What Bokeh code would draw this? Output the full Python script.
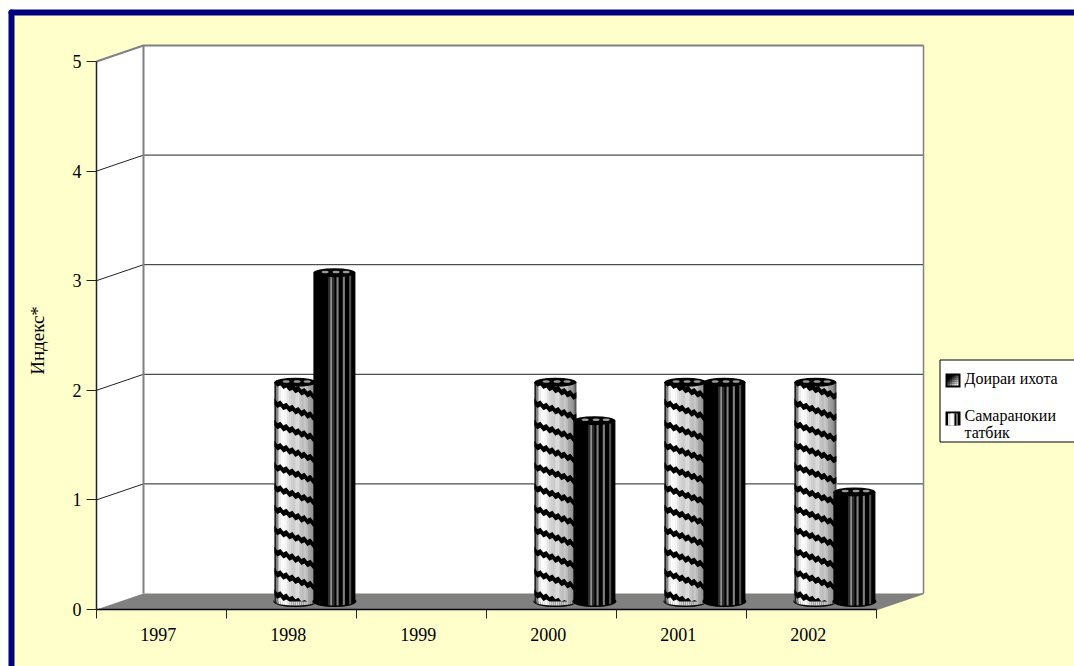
import numpy as np
from bokeh.plotting import figure
from bokeh.models import BoxAnnotation, Label, FixedTicker, LinearAxis
from bokeh.embed import file_html
from bokeh.resources import INLINE

years = ["1997", "1998", "1999", "2000", "2001", "2002"]
circle_values = [None, 2.0, None, 2.0, 2.0, 2.0]     # Доираи ихота
match_values = [None, 3.0, None, 1.65, 2.0, 1.0]     # Самаранокии татбик
y_ticks = [0, 1, 2, 3, 4, 5]
series_names = ["Доираи ихота", "Самаранокии", "татбик"]
y_title = "Индекс*"

YELLOW = "#FFFFCC"
NAVY = "#000080"
FONT = "Liberation Serif"
PX_X = 130.0     # pixels per category
PX_Y = 109.6     # pixels per index unit
X0, Y0 = 96, 609  # page pixel of the data origin
DX, DY = 47 / PX_X, 16 / PX_Y  # depth of the 3D box
FIG_W, FIG_H = 1074, 666


def hx(px):
    return (px - X0) / PX_X


def hy(px):
    return (Y0 - px) / PX_Y


p = figure(width=FIG_W, height=FIG_H, output_backend="svg", toolbar_location=None,
           x_range=(hx(0), hx(FIG_W)), y_range=(hy(FIG_H), hy(0)),
           min_border_left=0, min_border_right=0, min_border_top=0, min_border_bottom=0,
           x_axis_location=None, y_axis_location=None)
p.background_fill_color = YELLOW
p.border_fill_color = YELLOW
p.outline_line_color = None
p.grid.visible = False

# walls and floor
n_cat = len(years)
top = max(y_ticks)
p.patch([0, DX, DX, 0], [0, DY, top + DY, top], fill_color="white", line_color=None)
p.quad(left=DX, right=n_cat + DX, bottom=DY, top=top + DY, fill_color="white", line_color=None)
p.patch([0, DX, n_cat + DX, n_cat], [0, DY, DY, 0], fill_color="#808080", line_color=None)
for t in y_ticks[1:-1]:
    p.line([0, DX, n_cat + DX], [t, t + DY, t + DY], line_color="#222222", line_width=1)
p.line([0, DX, n_cat + DX], [top, top + DY, top + DY], line_color="#808080", line_width=2)
p.line([DX, DX], [DY, top + DY], line_color="#808080", line_width=2)
p.line([n_cat + DX, n_cat + DX], [DY, top + DY], line_color="#808080", line_width=1.5)
p.line([n_cat, n_cat + DX], [0, DY], line_color="#808080", line_width=1.5)

# cylinders
BAR_W = 42 / PX_X
CY = 8 / PX_Y       # base centre above the floor line
EH = 4.0 / PX_Y     # half height of the end ellipses
SHADE_A = ["#222222", "#888888", "#e8e8e8", "#ffffff", "#ffffff", "#f4f4f4", "#e4e4e4", "#d8d8d8", "#d0d0d0",
           "#cccccc", "#dddddd", "#dddddd", "#c4c4c4", "#bcbcbc", "#c8c8c8", "#bbbbbb", "#a4a4a4", "#999999",
           "#8a8a8a", "#555555"]
SHADE_B = ["#000000"] * 20
for i, s in [(8, "#909090"), (11, "#808080"), (14, "#808080"), (17, "#505050"), (7, "#303030"), (9, "#303030")]:
    SHADE_B[i] = s


def cylinder(cx, value, shades, base):
    n = len(shades)
    edges = np.linspace(cx - BAR_W / 2, cx + BAR_W / 2, n + 1)
    mid = (edges[:-1] + edges[1:]) / 2
    chord = np.sqrt(np.clip(1 - ((mid - cx) / (BAR_W / 2)) ** 2, 0, 1)) * EH
    p.ellipse([cx], [CY], width=BAR_W + 2 / PX_X, height=2 * EH + 3 / PX_Y, fill_color="black", line_color=None)
    p.quad(left=[edges[0]], right=[edges[-1]], bottom=[CY], top=[value + CY], fill_color=base, line_color=None)
    keep = [k for k, s in enumerate(shades) if s != "#000000"]
    p.quad(left=edges[keep], right=edges[np.array(keep) + 1], bottom=CY - chord[keep], top=value + CY,
           fill_color=[shades[k] for k in keep], line_color=None)


def top_cap(cx, value):
    tc = value + CY
    p.ellipse([cx], [tc], width=BAR_W, height=2 * EH + 1 / PX_Y, fill_color="black", line_color=None)
    for f in (-0.22, 0.04, 0.28):
        p.ellipse([cx + f * BAR_W], [tc + 0.8 / PX_Y], width=7 / PX_X, height=2.5 / PX_Y,
                  fill_color="#999999", line_color=None)


def bands(cx, value):
    band_step = 21.2 / PX_Y
    ts = np.linspace(-0.5, 0.5, 15)
    saw = np.where(np.arange(len(ts)) % 2 == 0, 1.3, -1.3) / PX_Y
    xs_out, ys_out = [], []
    start = CY + 8 / PX_Y
    while start < value + CY + 8 / PX_Y:
        mid_y = start - (ts + 0.5) * 15 / PX_Y
        upper = np.clip(mid_y + 3.0 / PX_Y + saw, CY, value + CY)
        lower = np.clip(mid_y - 3.0 / PX_Y + saw, CY, value + CY)
        xx = cx + ts * BAR_W
        xs_out.append(list(xx) + list(xx[::-1]))
        ys_out.append(list(upper) + list(lower[::-1]))
        start += band_step
    p.patches(xs_out, ys_out, fill_color="black", line_color=None)


for i in range(n_cat):
    if circle_values[i] is not None:
        cx = i + 0.53
        cylinder(cx, circle_values[i], SHADE_A, "#cccccc")
        bands(cx, circle_values[i])
        top_cap(cx, circle_values[i])
for i in range(n_cat):
    if match_values[i] is not None:
        cx = i + 0.83
        cylinder(cx, match_values[i], SHADE_B, "#000000")
        top_cap(cx, match_values[i])

# axes drawn inside the full-page frame
label_ticks = [i + 0.475 for i in range(n_cat)]
xax = LinearAxis(fixed_location=0)
xax.ticker = FixedTicker(ticks=label_ticks, minor_ticks=list(range(n_cat + 1)))
xax.major_label_overrides = dict(zip(label_ticks, years))
xax.bounds = (0, n_cat)
xax.major_tick_out = 0
xax.major_tick_in = 0
xax.minor_tick_out = 9
xax.minor_tick_in = 0
xax.minor_tick_line_color = "#222222"
xax.minor_tick_line_width = 1
xax.axis_line_color = "black"
xax.axis_line_width = 1.5
xax.major_label_standoff = 9
xax.major_label_text_font = FONT
xax.major_label_text_font_size = "18px"
xax.major_label_text_color = "black"
p.add_layout(xax, "below")

yax = LinearAxis(fixed_location=0)
yax.ticker = FixedTicker(ticks=y_ticks, minor_ticks=[])
yax.bounds = (0, top)
yax.major_tick_out = 10
yax.major_tick_in = 0
yax.major_tick_line_color = "#222222"
yax.axis_line_color = "#222222"
yax.axis_line_width = 1.5
yax.major_label_standoff = 5
yax.major_label_text_font = FONT
yax.major_label_text_font_size = "18px"
yax.major_label_text_color = "black"
p.add_layout(yax, "left")

p.add_layout(Label(x=hx(36.5), y=hy(340), text=y_title, angle=np.pi / 2, text_font=FONT, text_font_size="19px",
                   text_font_style="normal", text_color="black", text_align="center", text_baseline="middle"))


def box(x0, x1, y0, y1, fill, line=None, lw=1, radius=0):
    p.add_layout(BoxAnnotation(left=hx(x0), right=hx(x1), top=hy(y0), bottom=hy(y1),
                               fill_color=fill, fill_alpha=1, line_color=line, line_alpha=1, line_width=lw,
                               border_radius=radius, level="overlay"))


# page margin and border
box(0, 8, 0, FIG_H, "white")
box(0, FIG_W, 0, 9, "white")
box(8, FIG_W + 10, 9, 15, NAVY, radius=3)
box(8, 14, 9, FIG_H + 10, NAVY, radius=3)

# legend
box(939.5, FIG_W + 10, 359.5, 441.5, "white", "black", 1)


def icon_a(x, y):
    box(x, x + 15, y, y + 14, "black")
    cells = 5
    sz = 11 / cells
    for a in range(cells):
        for b in range(cells):
            g = int(np.clip((a + b) / (2 * cells - 2) * 320 - 60, 0, 255))
            box(x + 2 + a * sz, x + 2 + (a + 1) * sz, y + 2 + b * sz * 10 / 11, y + 2 + (b + 1) * sz * 10 / 11,
                "#%02x%02x%02x" % (g, g, g))


def icon_b(x, y):
    box(x, x + 15, y, y + 14, "black")
    box(x + 2.5, x + 12, y + 2, y + 14, "#dddddd")
    box(x + 5, x + 8, y + 2, y + 14, "white")
    box(x + 9, x + 11, y + 2, y + 14, "black")


def text(txt, x, y):
    p.add_layout(Label(x=hx(x), y=hy(y), text=txt, text_font=FONT, text_font_size="16px",
                       text_color="black", text_baseline="middle", level="overlay"))


icon_a(945, 373)
icon_b(945, 411)
text(series_names[0], 964, 378)
text(series_names[1], 964, 415)
text(series_names[2], 964, 432)

open("out.html", "w").write(file_html(p, INLINE))
